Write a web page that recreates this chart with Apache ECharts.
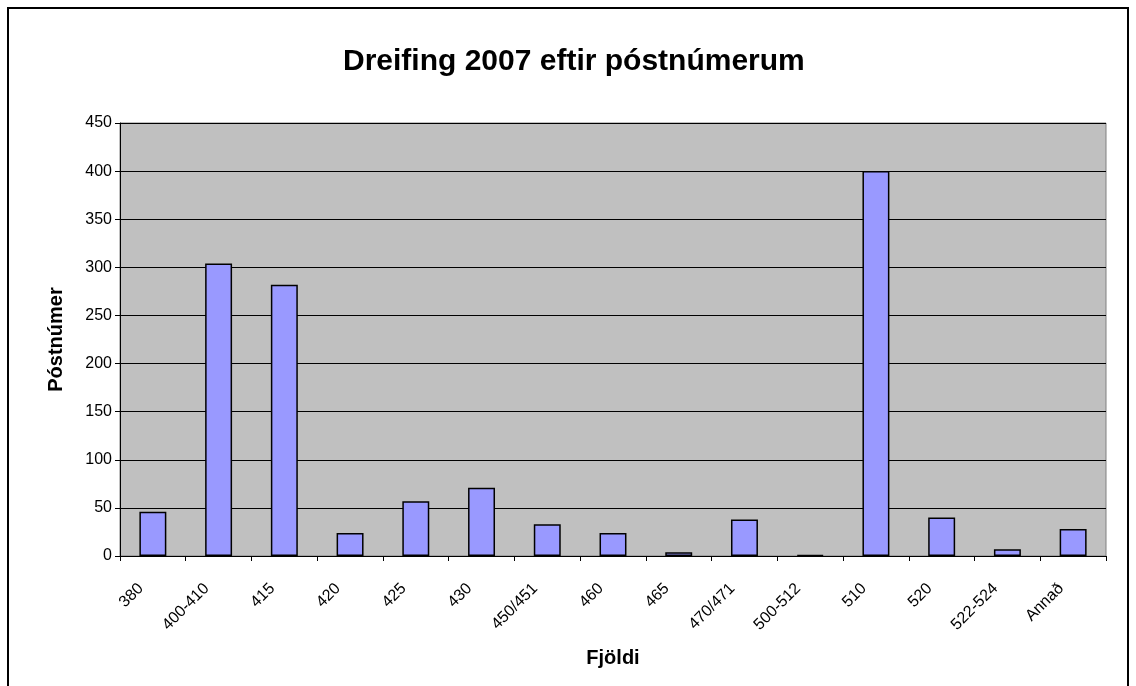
<!DOCTYPE html>
<html>
<head>
<meta charset="utf-8">
<title>Dreifing 2007 eftir póstnúmerum</title>
<script src="https://cdn.jsdelivr.net/npm/echarts@6/dist/echarts.min.js"></script>
<style>
  html, body { margin: 0; padding: 0; background: #fff; }
  #chart { width: 1136px; height: 686px; }
</style>
</head>
<body>
<div id="chart"></div>
<script>
// gögn lesin af myndinni
var postnumer = ['380', '400-410', '415', '420', '425', '430', '450/451', '460', '465', '470/471', '500-512', '510', '520', '522-524', 'Annað'];
var fjoldi = [46, 304, 282, 24, 57, 71, 33, 24, 4, 38, 1, 400, 40, 7, 28];
var yTicks = [0, 450, 50]; // min, max, bil

var myChart = echarts.init(document.getElementById('chart'));

var option = {
    backgroundColor: '#ffffff',
    animation: false,
    textStyle: { fontFamily: 'Liberation Sans, Arial, sans-serif' },
    title: {
        text: 'Dreifing 2007 eftir póstnúmerum',
        left: 338,
        top: 42,
        textStyle: { fontSize: 30, fontWeight: 'bold', color: '#000' }
    },
    graphic: [
        {
            type: 'rect',
            shape: { x: 8, y: 8, width: 1120, height: 700 },
            style: { fill: 'none', stroke: '#000', lineWidth: 2 },
            silent: true
        }
    ],
    grid: {
        left: 120, right: 30, top: 123, bottom: 130,
        show: true,
        backgroundColor: '#c0c0c0',
        borderColor: '#808080',
        borderWidth: 1
    },
    xAxis: {
        type: 'category',
        data: postnumer,
        name: 'Fjöldi',
        nameLocation: 'middle',
        nameGap: 92,
        nameTextStyle: { fontSize: 20, fontWeight: 'bold', color: '#000' },
        axisLine: { lineStyle: { color: '#000', width: 1 } },
        axisTick: { show: true, alignWithLabel: false, length: 5, lineStyle: { color: '#000' } },
        axisLabel: { rotate: 45, fontSize: 16, color: '#000', margin: 18, interval: 0, padding: [0, 17, 0, 0] },
        splitLine: { show: false }
    },
    yAxis: {
        type: 'value',
        min: yTicks[0],
        max: yTicks[1],
        interval: yTicks[2],
        name: 'Póstnúmer',
        nameLocation: 'middle',
        nameGap: 54,
        nameTextStyle: { fontSize: 20, fontWeight: 'bold', color: '#000' },
        axisLine: { show: true, lineStyle: { color: '#000', width: 1 } },
        axisTick: { show: true, length: 5, inside: false, lineStyle: { color: '#000' } },
        axisLabel: { fontSize: 16, color: '#000', margin: 8 },
        splitLine: { show: true, lineStyle: { color: '#000', width: 1 } }
    },
    series: [
        {
            name: 'Fjöldi',
            type: 'bar',
            data: fjoldi,
            barWidth: '41%',
            itemStyle: { color: '#9999ff', borderColor: '#000', borderWidth: 1.5 }
        }
    ]
};

myChart.setOption(option);
</script>
</body>
</html>
